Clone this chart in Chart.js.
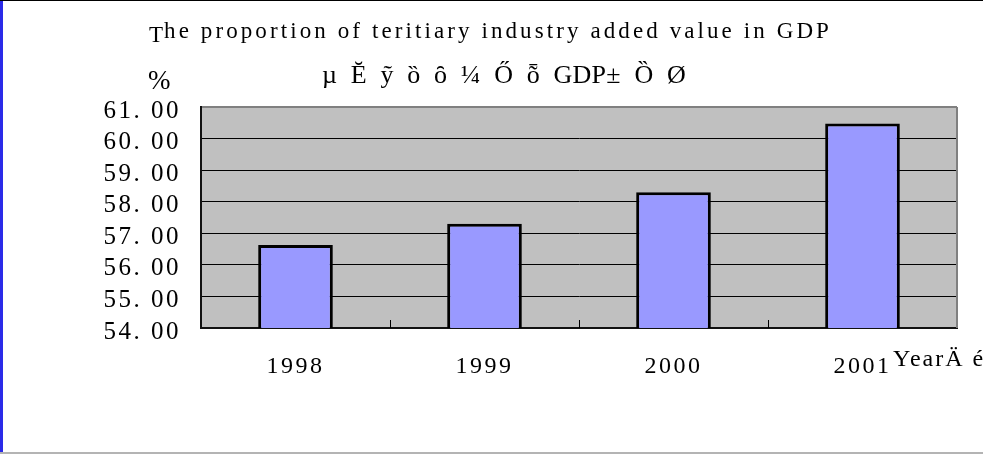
<!DOCTYPE html>
<html>
<head>
<meta charset="utf-8">
<script src="https://cdn.jsdelivr.net/npm/chart.js@4.4.1/dist/chart.umd.min.js"></script>
<style>
  body { margin: 0; background: #fff; }
  #wrap { position: relative; width: 983px; height: 454px; overflow: hidden; }
  #graficabarras { position: absolute; left: 0; top: 0; }
  .borde { position: absolute; }
</style>
</head>
<body>
<div id="wrap">
  <canvas id="graficabarras" width="983" height="454"></canvas>
  <div class="borde" style="left:0;top:0;width:3px;height:454px;background:#2a2ae8"></div>
  <div class="borde" style="left:0;top:0;width:983px;height:1px;background:#000"></div>
  <div class="borde" style="left:0;top:452px;width:983px;height:2px;background:#b4b4b4"></div>
</div>
<script>
// datos
const years = ['1998', '1999', '2000', '2001'];
const proportion = [56.63, 57.3, 58.3, 60.48];
const yMin = 54;
const yMax = 61;

const titulo = 'The proportion of teritiary industry added value in GDP';
const subtitulo = 'µ  Ĕ  ỹ  ȍ  ȏ  ¼  Ő  ȭ  GDP±  Ȍ  Ø';
const unidad = '%';
const ejeX = 'YearÄ é';

const serif = "'Liberation Serif', 'Times New Roman', serif";

// texto con espaciado ajustado a un ancho dado
function textoEspaciado(ctx, texto, x, y, ancho) {
    ctx.letterSpacing = '0px';
    const w0 = ctx.measureText(texto).width;
    const ls = (ancho - w0) / texto.length;
    ctx.letterSpacing = ls + 'px';
    ctx.fillText(texto, x, y);
}

const plugin = {
    id: 'estilo',
    beforeUpdate(chart) {
        chart.ctx.letterSpacing = '2.5px';
    },
    beforeDraw(chart) {
        const { ctx, chartArea: a } = chart;
        ctx.letterSpacing = '2.5px';
        ctx.save();
        ctx.fillStyle = '#c0c0c0';
        ctx.fillRect(a.left, a.top, a.right - a.left, a.bottom - a.top);
        ctx.restore();
    },
    afterDraw(chart) {
        const { ctx, chartArea: a } = chart;
        const x = chart.scales.x;
        ctx.save();
        // borde derecho
        ctx.strokeStyle = '#808080';
        ctx.lineWidth = 2;
        ctx.beginPath();
        ctx.moveTo(a.right, a.top);
        ctx.lineTo(a.right, a.bottom);
        ctx.stroke();
        // marcas entre categorias
        ctx.strokeStyle = '#000';
        ctx.lineWidth = 1;
        for (let i = 1; i < years.length; i++) {
            const px = Math.round((x.getPixelForTick(i - 1) + x.getPixelForTick(i)) / 2) + 0.5;
            ctx.beginPath();
            ctx.moveTo(px, a.bottom - 8);
            ctx.lineTo(px, a.bottom);
            ctx.stroke();
        }
        // textos
        ctx.fillStyle = '#000';
        ctx.textBaseline = 'alphabetic';
        ctx.textAlign = 'left';
        ctx.font = '23px ' + serif;
        ctx.letterSpacing = '0px';
        ctx.fillText('T', 149, 42);
        const wT = ctx.measureText('T').width;
        textoEspaciado(ctx, titulo.slice(1), 149 + wT + 1, 38, 832 - 149 - wT - 1);
        ctx.font = '26px ' + serif;
        textoEspaciado(ctx, subtitulo, 322, 83, 364);
        ctx.letterSpacing = '0px';
        ctx.font = '27px ' + serif;
        ctx.fillText(unidad, 148, 89);
        ctx.font = '24px ' + serif;
        ctx.letterSpacing = '2px';
        ctx.fillText(ejeX, 893, 366);
        ctx.restore();
    }
};

const ctx = document.getElementById('graficabarras').getContext('2d');

window.myChart = new Chart(ctx, {
    type: 'bar',
    data: {
        labels: years,
        datasets: [{
            data: proportion,
            backgroundColor: '#9999ff',
            borderColor: '#000',
            borderWidth: 3,
            borderSkipped: false,
            categoryPercentage: 1,
            barPercentage: 0.395
        }]
    },
    options: {
        responsive: false,
        animation: false,
        layout: { padding: { left: 0, right: 26, top: 107, bottom: 0 } },
        plugins: {
            legend: { display: false },
            tooltip: { enabled: false }
        },
        scales: {
            x: {
                afterFit: s => { s.height = 126; },
                grid: { display: false, drawTicks: false },
                border: { color: '#111', width: 2 },
                ticks: {
                    color: '#000',
                    padding: 24,
                    autoSkip: false,
                    maxRotation: 0,
                    font: { family: serif, size: 24 }
                }
            },
            y: {
                min: yMin,
                max: yMax,
                afterFit: s => { s.width = 201; },
                grid: {
                    drawTicks: false,
                    color: c => (c.tick && c.tick.value === yMax ? '#808080' : '#000'),
                    lineWidth: c => (c.tick && c.tick.value === yMax ? 2 : 1)
                },
                border: { color: '#111', width: 2 },
                ticks: {
                    stepSize: 1,
                    autoSkip: false,
                    color: '#000',
                    padding: 20,
                    labelOffset: 4,
                    font: { family: serif, size: 25 },
                    callback: v => v.toFixed(2).replace('.', '. ')
                }
            }
        }
    },
    plugins: [plugin]
});
</script>
</body>
</html>
